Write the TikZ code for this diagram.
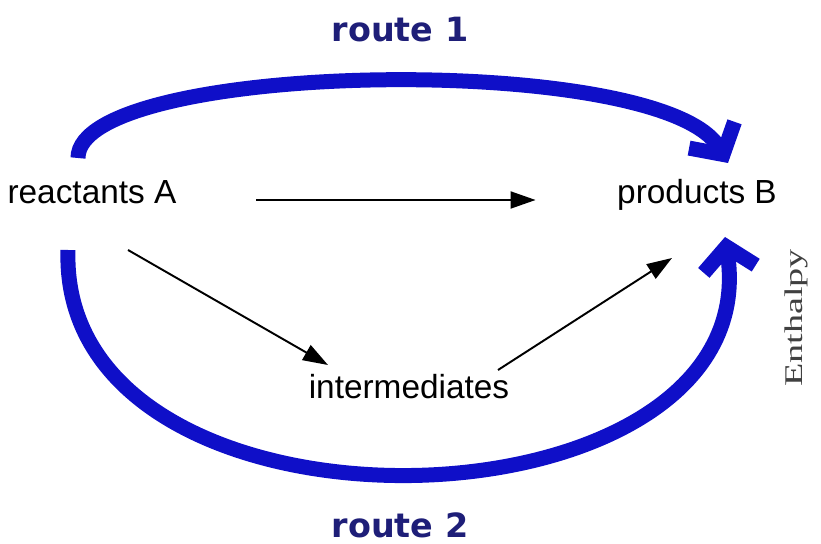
\documentclass[tikz,border=0pt]{standalone}
\usepackage{fontspec}
\setmainfont{Liberation Sans}
\newfontfamily\routefont{DejaVu Sans}
\newfontfamily\axisfont{Liberation Serif}
\usetikzlibrary{arrows.meta}
\definecolor{routeblue}{RGB}{15,15,200}
\definecolor{routetext}{RGB}{30,30,120}

\begin{document}
\begin{tikzpicture}[
        font=\fontsize{19}{22}\selectfont,
        species/.style={inner sep=3pt, text height=0.75em, text depth=0.3em},
        route/.style={routeblue, line width=0.3cm, -{Straight Barb[length=0.45cm, width=1.05cm]}},
        reaction/.style={line width=1.1pt, -{Triangle[length=0.5cm, width=0.34cm]}},
        routelabel/.style={font=\routefont\bfseries\fontsize{19}{22}\selectfont, text=routetext}
    ]
    \useasboundingbox (0,0) rectangle (16.42,10.88);

    % The species
    \node[species] (reactants) at (1.84,6.88) {reactants A};
    \node[species] (products) at (13.94,6.88) {products B};
    \node[species] (intermediates) at (8.18,2.98) {intermediates};

    % Direct and stepwise reactions
    \draw[reaction, shorten <=1.48cm, shorten >=1.52cm] (reactants.east) -- (products.west);
    \draw[reaction] ([shift={(0.72,-1)}]reactants.center) -- ([shift={(-1.62,0.6)}]intermediates.center);
    \draw[reaction] ([shift={(1.78,0.5)}]intermediates.center) -- ([shift={(-0.5,-1.16)}]products.center);

    % The two routes
    \draw[route] ([shift={(-0.28,0.84)}]reactants.center) .. controls +(0,1.95) and +(-1.3,2.25) .. ([shift={(0.62,0.74)}]products.center);
    \draw[route] ([shift={(-0.48,-1)}]reactants.center) .. controls +(-0.2,-6.2) and +(0.9,-6.06) .. ([shift={(0.56,-0.74)}]products.center);
    \node[routelabel] (route1) at (8,10.28) {route 1};
    \node[routelabel] (route2) at (8,0.38) {route 2};

    % Axis label
    \node[rotate=90, text=black!75, font=\axisfont\fontsize{14.5}{16}\selectfont] (enthalpy) at (15.92,4.52) {\scalebox{1.5}[1]{Enthalpy}};

\end{tikzpicture}
\end{document}
